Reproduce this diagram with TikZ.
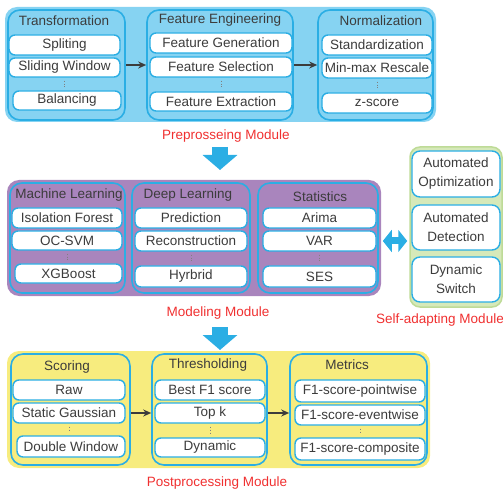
\documentclass[tikz,border=0pt]{standalone}
\usepackage{fontspec}
\setmainfont{Liberation Sans}
\usetikzlibrary{arrows.meta}
\definecolor{lblue}{HTML}{86D3F2}
\definecolor{cyb}{HTML}{2BAEE4}
\definecolor{purp}{HTML}{A985BD}
\definecolor{yel}{HTML}{F7EC7E}
\definecolor{gfill}{HTML}{D6E9B9}
\definecolor{gline}{HTML}{BEDB97}
\definecolor{txt}{HTML}{3C3C3C}
\definecolor{redl}{HTML}{F03030}
\tikzset{
  bg/.style={inner sep=0pt, rounded corners=12pt, draw=none},
  grp/.style={inner sep=0pt, draw=cyb, line width=1.6pt, rounded corners=12pt},
  item/.style={inner sep=0pt, draw=cyb, fill=white, line width=1.4pt, rounded corners=6pt, text=txt},
  item2/.style={item, rounded corners=8pt, align=center, font=\fontsize{13.5}{19}\selectfont},
  ttl/.style={text=txt, inner sep=0pt},
  modlabel/.style={text=redl, inner sep=0pt},
  arr/.style={-{Stealth[length=8pt,width=7pt]}, line width=1.5pt, draw=txt},
  dots/.style={dotted, line width=0.9pt, draw=gray, shorten <=3pt, shorten >=3pt},
  bigarrow/.style={line width=16pt, draw=cyb, -{Triangle[length=15pt,width=34pt]}},
  dblarrow/.style={line width=7pt, draw=cyb, {Triangle[length=9pt,width=22pt]}-{Triangle[length=9pt,width=22pt]}, shorten <=4pt, shorten >=2pt}
}
% #1 style, #2 name, #3 x1, #4 y1, #5 x2, #6 y2, #7 text
\newcommand\ibox[7]{%
  \pgfmathsetmacro\bw{#5-#3}\pgfmathsetmacro\bh{#6-#4}%
  \pgfmathsetmacro\bx{(#3+#5)/2}\pgfmathsetmacro\by{(#4+#6)/2}%
  \node[#1, minimum width=\bw pt, minimum height=\bh pt] (#2) at (\bx,\by) {#7};}
\begin{document}
\begin{tikzpicture}[x=1pt,y=-1pt, font=\fontsize{13.5}{16}\selectfont]
\useasboundingbox (0,0) rectangle (503,494);

% backgrounds
\ibox{bg, fill=lblue}{pre}{5}{7}{436}{122}{}
\ibox{bg, fill=purp}{mod}{7}{180}{381}{296}{}
\ibox{bg, fill=yel}{post}{7}{351}{430}{468}{}
\ibox{bg, fill=gfill, draw=gline, line width=1.5pt, rounded corners=10pt}{sa}{410}{147}{502}{307}{}

% groups
\ibox{grp}{trans}{8}{10}{125}{120}{}
\ibox{grp}{fe}{147}{10}{293}{120}{}
\ibox{grp}{norm}{318}{10}{433}{120}{}
\ibox{grp}{ml}{10}{183}{125}{293}{}
\ibox{grp}{dl}{132}{183}{250}{293}{}
\ibox{grp}{st}{258}{183}{378}{293}{}
\ibox{grp}{sc}{11}{354}{130}{465}{}
\ibox{grp}{th}{152}{354}{267}{465}{}
\ibox{grp}{me}{290}{354}{427}{465}{}

% titles
\node[ttl] (transT) at (64,21) {Transformation};
\node[ttl] (feT) at (220,20) {Feature Engineering};
\node[ttl] (normT) at (381,21) {Normalization};
\node[ttl] (mlT) at (69,195) {Machine Learning};
\node[ttl] (dlT) at (188,195) {Deep Learning};
\node[ttl] (stT) at (320,197) {Statistics};
\node[ttl] (scT) at (67,367) {Scoring};
\node[ttl] (thT) at (208,365) {Thresholding};
\node[ttl] (meT) at (347,365) {Metrics};

% items: preprocessing
\ibox{item}{spl}{9}{35}{120}{55}{Spliting}
\ibox{item}{sw}{9}{58}{120}{77}{Sliding Window}
\ibox{item}{bal}{13}{91}{121}{110}{Balancing}
\ibox{item}{fg}{150}{33}{292}{53}{Feature Generation}
\ibox{item}{fs}{150}{57}{292}{77}{Feature Selection}
\ibox{item}{fx}{150}{92}{292}{111}{Feature Extraction}
\ibox{item}{std}{322}{35}{432}{55}{Standardization}
\ibox{item}{mm}{322}{58}{432}{78}{Min-max Rescale}
\ibox{item}{zs}{322}{93}{432}{113}{z-score}

% items: modeling
\ibox{item}{isf}{12}{208}{122}{228}{Isolation Forest}
\ibox{item}{ocs}{12}{231}{122}{250}{OC-SVM}
\ibox{item}{xgb}{15}{264}{122}{283}{XGBoost}
\ibox{item}{pred}{135}{208}{247}{228}{Prediction}
\ibox{item}{rec}{135}{231}{247}{251}{Reconstruction}
\ibox{item}{hyb}{135}{266}{247}{287}{Hyrbrid}
\ibox{item}{ari}{263}{208}{376}{228}{Arima}
\ibox{item}{var}{263}{231}{376}{251}{VAR}
\ibox{item}{ses}{263}{266}{376}{287}{SES}

% items: self-adapting
\ibox{item2}{ao}{412}{151}{500}{197}{Automated\\Optimization}
\ibox{item2}{ad}{412}{205}{500}{250}{Automated\\Detection}
\ibox{item2}{ds}{412}{257}{500}{302}{Dynamic\\Switch}

% items: postprocessing
\ibox{item}{raw}{13}{380}{125}{400}{Raw}
\ibox{item}{sg}{13}{403}{125}{423}{Static Gaussian}
\ibox{item}{dw}{17}{436}{125}{457}{Double Window}
\ibox{item}{bf}{155}{380}{265}{400}{Best F1 score}
\ibox{item}{tk}{155}{403}{265}{423}{Top k}
\ibox{item}{dyn}{155}{438}{265}{457}{Dynamic}
\ibox{item}{fp}{295}{380}{425}{402}{F1-score-pointwise}
\ibox{item}{fev}{295}{405}{425}{425}{F1-score-eventwise}
\ibox{item}{fc}{295}{438}{425}{460}{F1-score-composite}

% dots
\draw[dots] (sw.south) -- (sw.south |- bal.north);
\draw[dots] (fs.south) -- (fs.south |- fx.north);
\draw[dots] (mm.south) -- (mm.south |- zs.north);
\draw[dots] (ocs.south) -- (ocs.south |- xgb.north);
\draw[dots] (rec.south) -- (rec.south |- hyb.north);
\draw[dots] (var.south) -- (var.south |- ses.north);
\draw[dots] (sg.south) -- (sg.south |- dw.north);
\draw[dots] (tk.south) -- (tk.south |- dyn.north);
\draw[dots] (fev.south) -- (fev.south |- fc.north);

% arrows
\draw[arr] (trans) -- (fe);
\draw[arr] (fe) -- (norm);
\draw[arr] (sc.east |- sg.center) -- (th.west |- sg.center);
\draw[arr] (th.east |- tk.center) -- (me.west |- tk.center);

\coordinate (a1s) at (220,147);
\coordinate (a1e) at (220,170);
\coordinate (a2s) at (220,327);
\coordinate (a2e) at (220,350);
\draw[bigarrow] (a1s) -- (a1e);
\draw[bigarrow] (a2s) -- (a2e);
\draw[dblarrow] (st.east |- var.center) -- (sa.west |- var.center);

% module labels
\node[modlabel] (preL) at (226,136) {Preprosseing Module};
\node[modlabel] (modL) at (218,313) {Modeling Module};
\node[modlabel] (saL) at (440,320) {Self-adapting Module};
\node[modlabel] (postL) at (217,483) {Postprocessing Module};
\end{tikzpicture}
\end{document}
